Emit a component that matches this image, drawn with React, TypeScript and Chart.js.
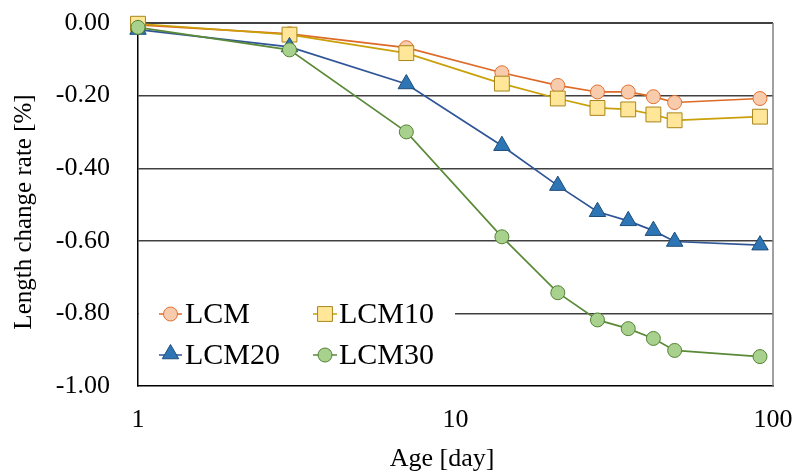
import React, { useEffect, useRef } from "react";
import { Chart, registerables } from "chart.js";

Chart.register(...registerables);

// Age of the specimens [day]
const ages = [1, 3, 7, 14, 21, 28, 35, 42, 49, 91];

// Length change rate [%]
const lcm = [-0.005, -0.03, -0.068, -0.137, -0.172, -0.19, -0.19, -0.203, -0.219, -0.208];
const lcm10 = [-0.002, -0.032, -0.083, -0.167, -0.208, -0.234, -0.238, -0.252, -0.268, -0.258];
const lcm20 = [-0.018, -0.066, -0.168, -0.338, -0.448, -0.52, -0.545, -0.572, -0.602, -0.612];
const lcm30 = [-0.012, -0.074, -0.3, -0.589, -0.743, -0.818, -0.842, -0.869, -0.902, -0.919];

const seriesNames = ["LCM", "LCM10", "LCM20", "LCM30"];
const xTickValues = [1, 10, 100];
const xTitle = "Age [day]";
const yTitle = "Length change rate [%]";

const SERIF = "'Liberation Serif', 'Times New Roman', serif";

type Style = {
  line: string;
  fill: string;
  edge: string;
  shape: "circle" | "rect" | "triangle";
  radius: number;
};

const styles: Style[] = [
  { line: "#DD6A26", fill: "#F8CBAD", edge: "#E07030", shape: "circle", radius: 7 },
  { line: "#C9A008", fill: "#FFE699", edge: "#A8861A", shape: "rect", radius: 10.5 },
  { line: "#2F5597", fill: "#2E75B6", edge: "#1F4E79", shape: "triangle", radius: 9.5 },
  { line: "#5A8A38", fill: "#A9D18E", edge: "#548235", shape: "circle", radius: 7 },
];

const values = [lcm, lcm10, lcm20, lcm30];

function drawMarker(ctx: CanvasRenderingContext2D, shape: string, x: number, y: number, r: number) {
  ctx.beginPath();
  if (shape === "circle") {
    ctx.arc(x, y, r, 0, Math.PI * 2);
  } else if (shape === "rect") {
    const s = Math.SQRT1_2 * r;
    ctx.rect(x - s, y - s, 2 * s, 2 * s);
  } else {
    const h = r * 1.5;
    const w = r * Math.sqrt(3);
    ctx.moveTo(x, y - r);
    ctx.lineTo(x + w / 2, y - r + h);
    ctx.lineTo(x - w / 2, y - r + h);
    ctx.closePath();
  }
  ctx.fill();
  ctx.stroke();
}

// Frame (top + right edges), axis titles and the in-plot legend box
const framePlugin = {
  id: "frameAndLegend",
  beforeDatasetsDraw(chart: any) {
    const { ctx, chartArea } = chart;
    const { left, right, top, bottom } = chartArea;
    ctx.save();
    ctx.lineWidth = 1.5;
    ctx.strokeStyle = "#000000";
    ctx.beginPath();
    ctx.moveTo(left, top);
    ctx.lineTo(right, top);
    ctx.stroke();
    ctx.strokeStyle = "#808080";
    ctx.beginPath();
    ctx.moveTo(right, top);
    ctx.lineTo(right, bottom);
    ctx.stroke();

    // axis titles
    ctx.fillStyle = "#000000";
    ctx.font = `26px ${SERIF}`;
    ctx.textAlign = "center";
    ctx.textBaseline = "alphabetic";
    ctx.fillText(xTitle, 442, 466);
    ctx.save();
    ctx.translate(31, 212);
    ctx.rotate(-Math.PI / 2);
    ctx.font = `25px ${SERIF}`;
    ctx.fillText(yTitle, 0, 0);
    ctx.restore();

    // legend background
    ctx.fillStyle = "#ffffff";
    ctx.fillRect(left + 1, 292, 454 - left, 86);

    const rows = [314, 355];
    const cols = [
      { x0: 159, x1: 182, text: 185 },
      { x0: 313, x1: 337, text: 339 },
    ];
    ctx.font = `30px ${SERIF}`;
    ctx.textBaseline = "middle";
    ctx.textAlign = "left";
    seriesNames.forEach((name, i) => {
      const st = styles[i];
      const row = rows[Math.floor(i / 2)];
      const col = cols[i % 2];
      ctx.strokeStyle = st.line;
      ctx.lineWidth = 1.5;
      ctx.beginPath();
      ctx.moveTo(col.x0, row);
      ctx.lineTo(col.x1, row);
      ctx.stroke();
      ctx.fillStyle = st.fill;
      ctx.strokeStyle = st.edge;
      ctx.lineWidth = 1;
      const cx = (col.x0 + col.x1) / 2;
      const cy = st.shape === "triangle" ? row - 1 : row;
      drawMarker(ctx, st.shape, cx, cy, st.radius);
      ctx.fillStyle = "#000000";
      ctx.fillText(name, col.text, row + 1);
    });
    ctx.restore();
  },
};

function noOverhang(scale: any) {
  scale.paddingLeft = 0;
  scale.paddingRight = 0;
  scale.paddingTop = 0;
  scale.paddingBottom = 0;
}

export default function App() {
  const canvasRef = useRef<HTMLCanvasElement | null>(null);

  useEffect(() => {
    if (!canvasRef.current) return;
    const datasets = seriesNames.map((name, i) => ({
      label: name,
      data: ages.map((a, j) => ({ x: a, y: values[i][j] })),
      borderColor: styles[i].line,
      borderWidth: 1.7,
      backgroundColor: styles[i].fill,
      pointStyle: styles[i].shape,
      pointRadius: styles[i].radius,
      pointHoverRadius: styles[i].radius,
      pointBackgroundColor: styles[i].fill,
      pointBorderColor: styles[i].edge,
      pointBorderWidth: 1,
      tension: 0,
      clip: false as const,
      order: 4 - i,
    }));

    const chart = new Chart(canvasRef.current, {
      type: "line",
      data: { datasets },
      plugins: [framePlugin],
      options: {
        animation: false,
        responsive: false,
        maintainAspectRatio: false,
        layout: { padding: { left: 0, right: 22, top: 23, bottom: 0 } },
        plugins: {
          legend: { display: false },
          tooltip: { enabled: false },
        },
        scales: {
          x: {
            type: "logarithmic",
            min: 1,
            max: 100,
            afterBuildTicks: (scale: any) => {
              scale.ticks = xTickValues.map((v) => ({ value: v }));
            },
            afterFit: (scale: any) => {
              scale.height = 85;
              noOverhang(scale);
            },
            grid: { display: false, drawTicks: false },
            border: { display: true, color: "#000000", width: 1.5 },
            ticks: {
              color: "#000000",
              font: { family: SERIF, size: 26 },
              padding: 19,
              maxRotation: 0,
              autoSkip: false,
              callback: (v: any) => String(v),
            },
            title: { display: false },
          },
          y: {
            type: "linear",
            min: -1,
            max: 0,
            afterFit: (scale: any) => {
              scale.width = 138;
              noOverhang(scale);
            },
            grid: {
              color: (c: any) =>
                c.tick && (c.tick.value === 0 || c.tick.value === -1) ? "rgba(0,0,0,0)" : "#404040",
              lineWidth: 1.4,
              drawTicks: false,
            },
            border: { display: true, color: "#000000", width: 1.5 },
            ticks: {
              stepSize: 0.2,
              color: "#000000",
              font: { family: SERIF, size: 26 },
              padding: 28,
              callback: (v: any) => Number(v).toFixed(2),
            },
            title: { display: false },
          },
        },
      },
    });
    return () => chart.destroy();
  }, []);

  return (
    <div style={{ position: "fixed", left: 0, top: 0, width: 795, height: 471, background: "#ffffff" }}>
      <canvas ref={canvasRef} width={795} height={471} style={{ width: 795, height: 471 }} />
    </div>
  );
}
